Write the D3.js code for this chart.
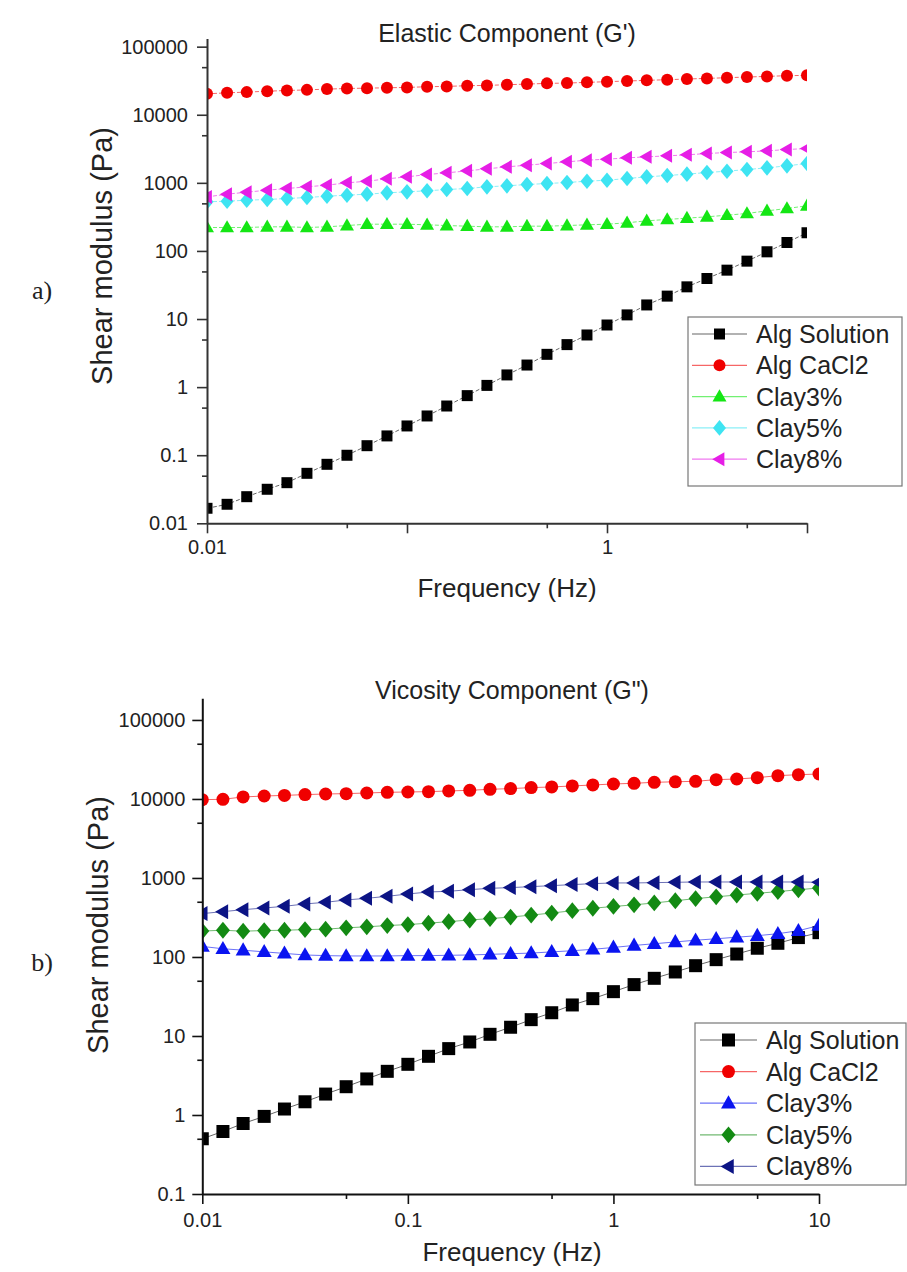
<!DOCTYPE html>
<html>
<head>
<meta charset="utf-8">
<script src="https://cdn.jsdelivr.net/npm/d3@7"></script>
<style>
  html, body { margin: 0; padding: 0; background: #fff; }
  svg text { font-family: "Liberation Sans", Arial, sans-serif; fill: #222; }
</style>
</head>
<body>
<svg id="chart" width="907" height="1272"></svg>
<script>
// Oscillatory frequency sweep (Hz), shared by every series
const frequency = [0.01, 0.0126, 0.0158, 0.02, 0.0251, 0.0316, 0.0398, 0.0501, 0.0631, 0.0794,
  0.1, 0.126, 0.158, 0.2, 0.251, 0.316, 0.398, 0.501, 0.631, 0.794,
  1, 1.26, 1.58, 2, 2.51, 3.16, 3.98, 5.01, 6.31, 7.94, 10];

const seriesNames = ["Alg Solution", "Alg CaCl2", "Clay3%", "Clay5%", "Clay8%"];

// Elastic component G' (Pa)
const elasticAlgSolution = [0.0166, 0.019, 0.0246, 0.0316, 0.0395, 0.0542, 0.0735, 0.0998, 0.138, 0.192,
  0.269, 0.377, 0.528, 0.75, 1.06, 1.51, 2.11, 3.03, 4.21, 5.83,
  8.17, 11.5, 16.1, 21.7, 29.7, 39.4, 52.2, 70.8, 97, 133, 185];
const elasticAlgCaCl2 = [20300, 21000, 21500, 22200, 22700, 23200, 23800, 24300, 24600, 24900,
  25200, 25800, 26100, 26700, 27000, 27600, 28200, 28900, 29200, 29900,
  30600, 31300, 32000, 32700, 33500, 34200, 35000, 35800, 36600, 37500, 37900];
const elasticClay3 = [221, 221, 221, 226, 226, 221, 226, 236, 247, 247,
  247, 242, 236, 231, 226, 226, 231, 231, 236, 242,
  247, 259, 277, 290, 303, 317, 335, 355, 388, 420, 460];
const elasticClay5 = [526, 538, 556, 569, 589, 609, 637, 659, 682, 713,
  738, 764, 798, 826, 874, 904, 945, 978, 1011, 1058,
  1094, 1158, 1225, 1282, 1341, 1419, 1483, 1570, 1661, 1778, 1923];
const elasticClay8 = [622, 682, 729, 780, 826, 874, 925, 1000, 1057, 1145,
  1225, 1325, 1402, 1500, 1606, 1718, 1817, 1923, 2034, 2152,
  2227, 2328, 2409, 2492, 2577, 2697, 2789, 2853, 2951, 3086, 3192];

// Viscous component G'' (Pa)
const viscousAlgSolution = [0.50, 0.62, 0.78, 0.96, 1.19, 1.47, 1.84, 2.28, 2.86, 3.57,
  4.38, 5.53, 6.92, 8.4, 10.5, 12.9, 16.1, 19.7, 24.7, 29.7,
  36.4, 44.7, 53.7, 64.6, 77.6, 92.5, 109, 129, 149, 176, 203];
const viscousAlgCaCl2 = [9800, 9900, 10600, 10900, 11100, 11350, 11560, 11680, 11900, 12140,
  12260, 12380, 12630, 12880, 13250, 13520, 13920, 14190, 14610, 15040,
  15480, 15790, 16250, 16500, 16740, 17550, 17900, 18600, 19730, 20300, 20700];
const viscousClay3 = [136, 127, 122, 116, 111, 106, 104, 103, 103, 103,
  104, 104, 105, 106, 108, 110, 112, 116, 120, 125,
  132, 140, 147, 155, 163, 170, 178, 186, 197, 215, 250];
const viscousClay5 = [213, 218, 212, 216, 218, 222, 225, 234, 241, 250,
  257, 268, 280, 294, 306, 320, 339, 360, 385, 414,
  436, 457, 483, 515, 548, 578, 608, 640, 672, 710, 747];
const viscousClay8 = [354, 375, 397, 417, 438, 469, 492, 527, 553, 586,
  627, 665, 678, 712, 740, 755, 777, 800, 824, 848,
  865, 865, 873, 882, 890, 890, 890, 890, 890, 890, 882];

// Axis ticks and labels
const xMajorTicks = [0.01, 0.1, 1, 10];
const xMinorTicks = [0.05, 0.5, 5];
const topXLabels = ["0.01", "", "1", ""];
const bottomXLabels = ["0.01", "0.1", "1", "10"];
const topYTicks = [0.01, 0.1, 1, 10, 100, 1000, 10000, 100000];
const topYLabels = ["0.01", "0.1", "1", "10", "100", "1000", "10000", "100000"];
const topYMinor = [0.05, 0.5, 5, 50, 500, 5000, 50000];
const bottomYTicks = [0.1, 1, 10, 100, 1000, 10000, 100000];
const bottomYLabels = ["0.1", "1", "10", "100", "1000", "10000", "100000"];
const bottomYMinor = [0.5, 5, 50, 500, 5000, 50000];

// Marker shapes; size is the marker width in px
const shapes = {
  square: { draw(c, s) { const h = s / 2; c.rect(-h, -h, s, s); } },
  circle: { draw(c, s) { const r = s / 2; c.moveTo(r, 0); c.arc(0, 0, r, 0, 2 * Math.PI); } },
  triUp: { draw(c, s) { const h = s * 0.87; c.moveTo(0, -h * 0.6); c.lineTo(s / 2, h * 0.4); c.lineTo(-s / 2, h * 0.4); c.closePath(); } },
  diamond: { draw(c, s) { const w = s / 2, h = s * 0.6; c.moveTo(0, -h); c.lineTo(w, 0); c.lineTo(0, h); c.lineTo(-w, 0); c.closePath(); } },
  triLeft: { draw(c, s) { const w = s * 0.87; c.moveTo(-w * 0.6, 0); c.lineTo(w * 0.4, -s / 2); c.lineTo(w * 0.4, s / 2); c.closePath(); } }
};

const svg = d3.select("#chart");

function panel(cfg) {
  const g = svg.append("g");
  const x = d3.scaleLog().domain([0.01, 10]).range([cfg.x0, cfg.x1]);
  const y = d3.scaleLog().domain(cfg.yDomain).range([cfg.yBottom, cfg.yTop]);

  const clipId = "clip" + cfg.id;
  svg.append("clipPath").attr("id", clipId).append("rect")
    .attr("x", cfg.x0).attr("y", cfg.yTop - 20)
    .attr("width", cfg.x1 - cfg.x0).attr("height", cfg.yBottom - cfg.yTop + 40);

  // series lines and markers
  const plot = g.append("g").attr("clip-path", `url(#${clipId})`);
  const line = d3.line().x((d, i) => x(frequency[i])).y(d => y(d));
  cfg.series.forEach(s => {
    plot.append("path").datum(s.values)
      .attr("d", line).attr("fill", "none")
      .attr("stroke", s.color).attr("stroke-opacity", 0.6)
      .attr("stroke-width", 1)
      .attr("stroke-dasharray", cfg.dash);
    plot.selectAll(null).data(s.values).enter().append("path")
      .attr("transform", (d, i) => `translate(${x(frequency[i])},${y(d)})`)
      .attr("d", d3.symbol().type(shapes[s.shape]).size(s.size))
      .attr("fill", s.color);
  });

  // axes
  const axisColor = cfg.axisColor;
  g.append("g").attr("transform", `translate(0,${cfg.yBottom})`)
    .call(d3.axisBottom(x).tickValues(xMajorTicks).tickSize(10).tickSizeOuter(0)
      .tickPadding(cfg.xPad).tickFormat((d, i) => cfg.xLabels[i]));
  g.append("g").attr("transform", `translate(0,${cfg.yBottom})`)
    .call(d3.axisBottom(x).tickValues(xMinorTicks).tickSize(5).tickSizeOuter(0).tickFormat(""))
    .select(".domain").remove();
  g.append("g").attr("transform", `translate(${cfg.x0},0)`)
    .call(d3.axisLeft(y).tickValues(cfg.yTicks).tickSize(10).tickSizeOuter(0)
      .tickPadding(cfg.yPad).tickFormat((d, i) => cfg.yLabels[i]));
  g.append("g").attr("transform", `translate(${cfg.x0},0)`)
    .call(d3.axisLeft(y).tickValues(cfg.yMinor).tickSize(5).tickSizeOuter(0).tickFormat(""))
    .select(".domain").remove();
  g.selectAll(".domain").attr("stroke", axisColor).attr("stroke-width", 2);
  g.selectAll(".tick line").attr("stroke", axisColor).attr("stroke-width", 1.6);
  g.selectAll(".tick text").attr("font-size", 20).attr("fill", "#222")
    .attr("font-family", '"Liberation Sans", Arial, sans-serif');

  // titles
  g.append("text").attr("x", cfg.titleX).attr("y", cfg.titleY)
    .attr("text-anchor", "middle").attr("dominant-baseline", "central")
    .attr("font-size", 25).text(cfg.title);
  g.append("text").attr("x", cfg.xTitleX).attr("y", cfg.xTitleY)
    .attr("text-anchor", "middle").attr("dominant-baseline", "central")
    .attr("font-size", 26).text("Frequency (Hz)");
  g.append("text")
    .attr("transform", `translate(${cfg.yTitleX},${cfg.yTitleY}) rotate(-90)`)
    .attr("text-anchor", "middle").attr("dominant-baseline", "central")
    .attr("font-size", 29).text("Shear modulus (Pa)");
  g.append("text").attr("x", 42).attr("y", cfg.tagY)
    .attr("text-anchor", "middle").attr("dominant-baseline", "central")
    .style("font-family", '"Liberation Serif", "Times New Roman", serif')
    .attr("font-size", 26).text(cfg.tag);

  // legend
  const L = cfg.legend;
  const lg = g.append("g");
  lg.append("rect").attr("x", L.x).attr("y", L.y).attr("width", L.w).attr("height", L.h)
    .attr("fill", "#fff").attr("stroke", "#777").attr("stroke-width", 1.2);
  cfg.series.forEach((s, i) => {
    const ry = L.firstRow + i * L.step;
    lg.append("line").attr("x1", L.lineX0).attr("x2", L.lineX1).attr("y1", ry).attr("y2", ry)
      .attr("stroke", s.color).attr("stroke-opacity", 0.6).attr("stroke-width", 1.2);
    lg.append("path").attr("transform", `translate(${(L.lineX0 + L.lineX1) / 2},${ry})`)
      .attr("d", d3.symbol().type(shapes[s.shape]).size(s.size)).attr("fill", s.color);
    lg.append("text").attr("x", L.textX).attr("y", ry).attr("dominant-baseline", "central")
      .attr("font-size", 25).text(seriesNames[i]);
  });
}

panel({
  id: "a", tag: "a)", tagY: 290,
  x0: 207, x1: 807, yTop: 38.5, yBottom: 523.3, yDomain: [0.01, 131800],
  xLabels: topXLabels, yTicks: topYTicks, yLabels: topYLabels, yMinor: topYMinor,
  xPad: 7, yPad: 9, axisColor: "#333", dash: "4,2",
  title: "Elastic Component (G')", titleX: 507, titleY: 33,
  xTitleX: 507, xTitleY: 588, yTitleX: 102, yTitleY: 256,
  series: [
    { values: elasticAlgSolution, color: "#000000", shape: "square", size: 11 },
    { values: elasticAlgCaCl2, color: "#f00000", shape: "circle", size: 12 },
    { values: elasticClay3, color: "#14e614", shape: "triUp", size: 14 },
    { values: elasticClay5, color: "#3ee4f2", shape: "diamond", size: 13 },
    { values: elasticClay8, color: "#e61ee6", shape: "triLeft", size: 14 }
  ],
  legend: { x: 688, y: 317, w: 214, h: 169, firstRow: 334, step: 31.3, lineX0: 692, lineX1: 747, textX: 756 }
});

panel({
  id: "b", tag: "b)", tagY: 962,
  x0: 202.3, x1: 819, yTop: 698.3, yBottom: 1194, yDomain: [0.1, 188000],
  xLabels: bottomXLabels, yTicks: bottomYTicks, yLabels: bottomYLabels, yMinor: bottomYMinor,
  xPad: 9, yPad: 7, axisColor: "#111", dash: null,
  title: "Vicosity Component (G\")", titleX: 512, titleY: 690,
  xTitleX: 512, xTitleY: 1252, yTitleX: 98, yTitleY: 925,
  series: [
    { values: viscousAlgSolution, color: "#000000", shape: "square", size: 13 },
    { values: viscousAlgCaCl2, color: "#f00000", shape: "circle", size: 13 },
    { values: viscousClay3, color: "#0a14f0", shape: "triUp", size: 15 },
    { values: viscousClay5, color: "#138a13", shape: "diamond", size: 14 },
    { values: viscousClay8, color: "#0c1485", shape: "triLeft", size: 15 }
  ],
  legend: { x: 695, y: 1023, w: 211, h: 162, firstRow: 1040, step: 31.6, lineX0: 700, lineX1: 757, textX: 766 }
});
</script>
</body>
</html>
